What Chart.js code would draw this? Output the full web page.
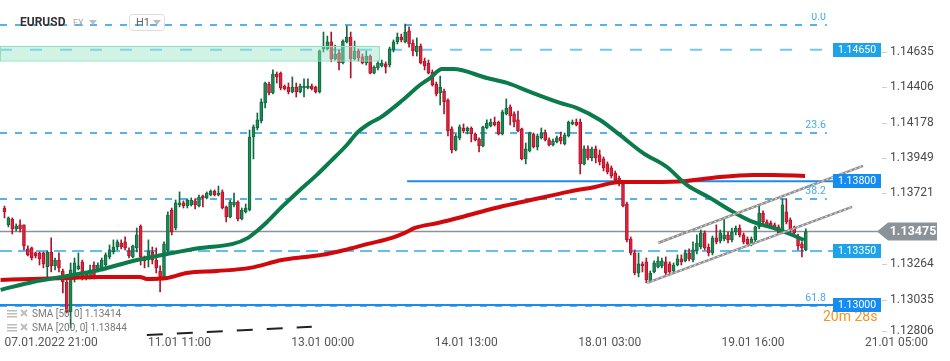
<!DOCTYPE html>
<html>
<head>
<meta charset="utf-8">
<script src="https://cdn.jsdelivr.net/npm/chart.js@4.4.1/dist/chart.umd.min.js"></script>
<style>
  html, body { margin: 0; padding: 0; background: #fff; overflow: hidden; }
  #wrap { width: 950px; height: 361px; }
</style>
</head>
<body>
<div id="wrap"><canvas id="chart" width="950" height="361"></canvas></div>
<script>
// EURUSD H1 candles (bar index 0 = 07.01 21:00)
const opens = [
  1.13627, 1.13518, 1.13556, 1.13492, 1.13518, 1.13518, 1.13363, 1.13369, 1.13337, 1.13337,
  1.13337, 1.13246, 1.13343, 1.13253, 1.13291, 1.13220, 1.13149, 1.12955, 1.13195, 1.13233,
  1.13279, 1.13175, 1.13182, 1.13259, 1.13233, 1.13240, 1.13259, 1.13311, 1.13343, 1.13375,
  1.13401, 1.13408, 1.13350, 1.13311, 1.13369, 1.13511, 1.13311, 1.13291, 1.13343, 1.13291,
  1.13220, 1.13182, 1.13356, 1.13614, 1.13498, 1.13647, 1.13660, 1.13640, 1.13647, 1.13673,
  1.13640, 1.13705, 1.13692, 1.13711, 1.13737, 1.13711, 1.13731, 1.13634, 1.13569, 1.13647,
  1.13666, 1.13556, 1.13602, 1.13614, 1.14086, 1.14144, 1.14189, 1.14306, 1.14428, 1.14370,
  1.14493, 1.14499, 1.14415, 1.14409, 1.14377, 1.14409, 1.14377, 1.14403, 1.14403, 1.14415,
  1.14409, 1.14377, 1.14655, 1.14655, 1.14700, 1.14590, 1.14629, 1.14564, 1.14700, 1.14732,
  1.14590, 1.14642, 1.14603, 1.14564, 1.14609, 1.14499, 1.14532, 1.14545, 1.14558, 1.14551,
  1.14648, 1.14700, 1.14732, 1.14700, 1.14771, 1.14693, 1.14635, 1.14674, 1.14577, 1.14564,
  1.14506, 1.14428, 1.14370, 1.14383, 1.14325, 1.14138, 1.14002, 1.14080, 1.14144, 1.14125,
  1.14144, 1.14105, 1.14073, 1.14028, 1.14144, 1.14157, 1.14183, 1.14183, 1.14105, 1.14235,
  1.14280, 1.14235, 1.14196, 1.14138, 1.13944, 1.13996, 1.14105, 1.14021, 1.14080, 1.14112,
  1.14067, 1.14034, 1.14054, 1.14086, 1.14041, 1.14092, 1.14170, 1.14183, 1.14183, 1.13912,
  1.14009, 1.13950, 1.14009, 1.13970, 1.13944, 1.13912, 1.13886, 1.13853, 1.13821, 1.13782,
  1.13653, 1.13427, 1.13337, 1.13207, 1.13266, 1.13279, 1.13156, 1.13214, 1.13246, 1.13253,
  1.13279, 1.13266, 1.13220, 1.13259, 1.13298, 1.13285, 1.13337, 1.13291, 1.13350, 1.13375,
  1.13466, 1.13375, 1.13337, 1.13434, 1.13414, 1.13427, 1.13453, 1.13421, 1.13472, 1.13498,
  1.13453, 1.13427, 1.13395, 1.13421, 1.13505, 1.13595, 1.13537, 1.13530, 1.13518, 1.13505,
  1.13472, 1.13602, 1.13550, 1.13498, 1.13440, 1.13395, 1.13356
];
const highs = [
  1.13640, 1.13569, 1.13563, 1.13524, 1.13550, 1.13518, 1.13382, 1.13375, 1.13343, 1.13343,
  1.13343, 1.13350, 1.13434, 1.13304, 1.13337, 1.13233, 1.13162, 1.13272, 1.13304, 1.13337,
  1.13291, 1.13214, 1.13259, 1.13279, 1.13272, 1.13304, 1.13337, 1.13388, 1.13421, 1.13421,
  1.13421, 1.13440, 1.13369, 1.13388, 1.13498, 1.13518, 1.13317, 1.13421, 1.13375, 1.13369,
  1.13253, 1.13408, 1.13602, 1.13627, 1.13679, 1.13731, 1.13673, 1.13686, 1.13692, 1.13686,
  1.13711, 1.13711, 1.13731, 1.13744, 1.13744, 1.13769, 1.13744, 1.13640, 1.13679, 1.13724,
  1.13673, 1.13627, 1.13653, 1.14131, 1.14164, 1.14241, 1.14332, 1.14441, 1.14441, 1.14519,
  1.14506, 1.14506, 1.14422, 1.14435, 1.14474, 1.14435, 1.14428, 1.14461, 1.14461, 1.14428,
  1.14415, 1.14648, 1.14764, 1.14738, 1.14764, 1.14680, 1.14648, 1.14713, 1.14803, 1.14764,
  1.14706, 1.14655, 1.14622, 1.14642, 1.14616, 1.14545, 1.14577, 1.14583, 1.14571, 1.14667,
  1.14713, 1.14758, 1.14751, 1.14816, 1.14797, 1.14713, 1.14726, 1.14687, 1.14596, 1.14583,
  1.14519, 1.14441, 1.14480, 1.14396, 1.14332, 1.14151, 1.14105, 1.14164, 1.14170, 1.14151,
  1.14151, 1.14112, 1.14080, 1.14157, 1.14196, 1.14202, 1.14215, 1.14189, 1.14260, 1.14332,
  1.14293, 1.14248, 1.14254, 1.14144, 1.14047, 1.14118, 1.14112, 1.14105, 1.14144, 1.14131,
  1.14080, 1.14073, 1.14092, 1.14118, 1.14112, 1.14189, 1.14196, 1.14202, 1.14202, 1.14028,
  1.14028, 1.14021, 1.14028, 1.14002, 1.13957, 1.13925, 1.13899, 1.13866, 1.13834, 1.13795,
  1.13666, 1.13440, 1.13356, 1.13337, 1.13279, 1.13304, 1.13220, 1.13285, 1.13311, 1.13304,
  1.13311, 1.13279, 1.13272, 1.13324, 1.13324, 1.13356, 1.13363, 1.13408, 1.13453, 1.13485,
  1.13479, 1.13395, 1.13446, 1.13518, 1.13485, 1.13556, 1.13472, 1.13498, 1.13511, 1.13518,
  1.13466, 1.13440, 1.13440, 1.13511, 1.13640, 1.13608, 1.13550, 1.13543, 1.13530, 1.13518,
  1.13686, 1.13686, 1.13563, 1.13511, 1.13459, 1.13408, 1.13492
];
const lows = [
  1.13563, 1.13505, 1.13459, 1.13479, 1.13472, 1.13356, 1.13317, 1.13291, 1.13304, 1.13259,
  1.13240, 1.13162, 1.13214, 1.13227, 1.13214, 1.13078, 1.12949, 1.12852, 1.13149, 1.13227,
  1.13162, 1.13162, 1.13169, 1.13169, 1.13214, 1.13227, 1.13246, 1.13298, 1.13330, 1.13356,
  1.13363, 1.13356, 1.13304, 1.13304, 1.13343, 1.13259, 1.13240, 1.13246, 1.13266, 1.13207,
  1.13085, 1.13175, 1.13343, 1.13453, 1.13485, 1.13634, 1.13627, 1.13627, 1.13640, 1.13621,
  1.13634, 1.13634, 1.13686, 1.13705, 1.13705, 1.13705, 1.13621, 1.13537, 1.13563, 1.13634,
  1.13543, 1.13550, 1.13595, 1.13608, 1.13944, 1.14131, 1.14176, 1.14273, 1.14357, 1.14364,
  1.14435, 1.14390, 1.14390, 1.14364, 1.14370, 1.14344, 1.14370, 1.14344, 1.14396, 1.14390,
  1.14370, 1.14370, 1.14635, 1.14648, 1.14571, 1.14583, 1.14519, 1.14558, 1.14693, 1.14467,
  1.14583, 1.14577, 1.14558, 1.14551, 1.14493, 1.14493, 1.14519, 1.14538, 1.14499, 1.14538,
  1.14635, 1.14687, 1.14700, 1.14693, 1.14667, 1.14609, 1.14609, 1.14558, 1.14519, 1.14493,
  1.14415, 1.14351, 1.14293, 1.14235, 1.14092, 1.13983, 1.13996, 1.14067, 1.14112, 1.14105,
  1.14054, 1.14060, 1.13989, 1.14021, 1.14138, 1.14151, 1.14157, 1.14099, 1.14099, 1.14228,
  1.14164, 1.14151, 1.14118, 1.13937, 1.13912, 1.13989, 1.14015, 1.14002, 1.14073, 1.14060,
  1.14028, 1.14028, 1.14047, 1.14041, 1.14034, 1.14086, 1.14164, 1.14157, 1.13847, 1.13905,
  1.13937, 1.13931, 1.13918, 1.13905, 1.13866, 1.13847, 1.13821, 1.13795, 1.13769, 1.13634,
  1.13408, 1.13324, 1.13195, 1.13182, 1.13214, 1.13143, 1.13149, 1.13207, 1.13240, 1.13240,
  1.13195, 1.13201, 1.13207, 1.13253, 1.13259, 1.13279, 1.13285, 1.13279, 1.13330, 1.13363,
  1.13356, 1.13317, 1.13324, 1.13395, 1.13401, 1.13414, 1.13401, 1.13408, 1.13453, 1.13440,
  1.13395, 1.13382, 1.13382, 1.13408, 1.13492, 1.13524, 1.13511, 1.13498, 1.13485, 1.13459,
  1.13466, 1.13524, 1.13472, 1.13446, 1.13356, 1.13311, 1.13350
];
const closes = [
  1.13602, 1.13563, 1.13492, 1.13511, 1.13492, 1.13382, 1.13324, 1.13304, 1.13317, 1.13298,
  1.13266, 1.13343, 1.13253, 1.13291, 1.13240, 1.13149, 1.12955, 1.13227, 1.13272, 1.13253,
  1.13175, 1.13201, 1.13227, 1.13182, 1.13259, 1.13291, 1.13324, 1.13356, 1.13375, 1.13408,
  1.13375, 1.13369, 1.13317, 1.13382, 1.13453, 1.13311, 1.13285, 1.13350, 1.13291, 1.13240,
  1.13182, 1.13395, 1.13582, 1.13472, 1.13660, 1.13660, 1.13640, 1.13679, 1.13679, 1.13647,
  1.13698, 1.13692, 1.13724, 1.13737, 1.13711, 1.13724, 1.13627, 1.13569, 1.13666, 1.13666,
  1.13556, 1.13614, 1.13627, 1.14086, 1.14151, 1.14196, 1.14312, 1.14435, 1.14370, 1.14493,
  1.14474, 1.14403, 1.14396, 1.14377, 1.14409, 1.14377, 1.14415, 1.14415, 1.14415, 1.14396,
  1.14377, 1.14642, 1.14674, 1.14700, 1.14590, 1.14622, 1.14564, 1.14706, 1.14732, 1.14590,
  1.14642, 1.14596, 1.14564, 1.14609, 1.14499, 1.14538, 1.14564, 1.14564, 1.14538, 1.14655,
  1.14700, 1.14732, 1.14713, 1.14764, 1.14687, 1.14642, 1.14674, 1.14564, 1.14545, 1.14499,
  1.14422, 1.14364, 1.14409, 1.14312, 1.14125, 1.14002, 1.14092, 1.14151, 1.14125, 1.14144,
  1.14105, 1.14067, 1.14028, 1.14151, 1.14176, 1.14183, 1.14164, 1.14105, 1.14248, 1.14273,
  1.14222, 1.14183, 1.14125, 1.13944, 1.14009, 1.14112, 1.14021, 1.14092, 1.14112, 1.14067,
  1.14034, 1.14060, 1.14080, 1.14060, 1.14099, 1.14183, 1.14183, 1.14164, 1.13912, 1.14009,
  1.13950, 1.14009, 1.13950, 1.13925, 1.13886, 1.13860, 1.13834, 1.13808, 1.13782, 1.13640,
  1.13421, 1.13337, 1.13207, 1.13266, 1.13253, 1.13162, 1.13207, 1.13272, 1.13285, 1.13285,
  1.13207, 1.13214, 1.13259, 1.13298, 1.13279, 1.13337, 1.13298, 1.13356, 1.13401, 1.13466,
  1.13369, 1.13337, 1.13434, 1.13408, 1.13466, 1.13453, 1.13421, 1.13472, 1.13498, 1.13453,
  1.13408, 1.13395, 1.13427, 1.13505, 1.13595, 1.13537, 1.13518, 1.13511, 1.13492, 1.13466,
  1.13647, 1.13537, 1.13492, 1.13466, 1.13382, 1.13369, 1.13475
];

// moving averages, sampled from the drawn curves (bar index / price)
const sma50Idx = [-1, 7.3, 16.1, 24.5, 33.0, 41.8, 50.3, 58.7, 62.6, 65.2,
  67.5, 71.3, 75.4, 80.3, 83.7, 88.0, 90.6, 94.0, 96.5, 102.4,
  106.8, 109.4, 112.5, 115.3, 124.0, 129.2, 135.1, 142.8, 147.2, 153.1,
  158.2, 164.1, 170.3, 175.4, 181.4, 187.3, 192.4, 197.6, 201.2, 205.5];
const sma50Val = [1.13098, 1.13149, 1.13188, 1.13227, 1.13285, 1.13330, 1.13369, 1.13395, 1.13434, 1.13485,
  1.13537, 1.13634, 1.13731, 1.13841, 1.13925, 1.14034, 1.14112, 1.14176, 1.14209, 1.14325,
  1.14422, 1.14467, 1.14525, 1.14525, 1.14467, 1.14435, 1.14377, 1.14306, 1.14273, 1.14196,
  1.14099, 1.13983, 1.13892, 1.13776, 1.13692, 1.13602, 1.13537, 1.13498, 1.13466, 1.13421];
const sma200Idx = [-1, 7.3, 16.1, 24.5, 34.8, 36.6, 41.8, 46.9, 54.6, 63.1,
  71.3, 77.3, 81.6, 87.5, 93.4, 99.6, 102.9, 105.5, 111.4, 117.6,
  126.1, 133.0, 138.9, 144.9, 151.8, 158.2, 166.7, 175.4, 183.9, 192.4,
  197.6, 205.8];
const sma200Val = [1.13162, 1.13169, 1.13175, 1.13182, 1.13182, 1.13169, 1.13175, 1.13207, 1.13220, 1.13240,
  1.13291, 1.13311, 1.13324, 1.13356, 1.13395, 1.13434, 1.13466, 1.13498, 1.13530, 1.13569,
  1.13627, 1.13666, 1.13698, 1.13731, 1.13763, 1.13795, 1.13795, 1.13802, 1.13828, 1.13841,
  1.13841, 1.13834];

// axes
const timeTicks = [0, 36.9, 73.7, 110.6, 147.5, 184.3, 221.2];
const timeLabels = ['07.01.2022 21:00', '11.01 11:00', '13.01 00:00', '14.01 13:00', '18.01 03:00', '19.01 16:00', '21.01 05:00'];
const priceTicks = [1.14635, 1.14406, 1.14178, 1.13949, 1.13721, 1.13492, 1.13264, 1.13035, 1.12806];

// drawings on the chart
const fibLevels = [1.14810, 1.14112, 1.13686, 1.12994];
const fibNames = ['0.0', '23.6', '38.2', '61.8'];
const fibEnd = 211.4;
const keyLevels = [1.14650, 1.13800, 1.13350, 1.13000];
const keyFrom = [-1.2, 103.5, -1.2, -1.2];
const lastPrice = 1.13475;
const zoneIdx = [-1.2, 96.5];
const zonePrice = [1.14674, 1.14580];
const channelUpIdx = [168.0, 220.7];
const channelUpVal = [1.13401, 1.13899];
const channelLowIdx = [165.2, 217.9];
const channelLowVal = [1.13143, 1.13634];
const trendIdx = [36.6, 79.0];
const trendVal = [1.12807, 1.12859];
const legendRows = ['SMA [50, 0] 1.13414', 'SMA [200, 0] 1.13844'];

const GREEN = '#1b8a57', GREEN_D = '#0d6a3e';
const RED = '#e2243b', RED_D = '#b0122a';

const idx = opens.map((_, i) => i);
const isUp = idx.map(i => closes[i] >= opens[i]);

function seg(ctx, x1, y1, x2, y2) {
    ctx.beginPath();
    ctx.moveTo(x1, y1);
    ctx.lineTo(x2, y2);
    ctx.stroke();
}

function tri(ctx, x, y) {
    ctx.beginPath();
    ctx.moveTo(x, y);
    ctx.lineTo(x + 8, y);
    ctx.lineTo(x + 4, y + 5);
    ctx.closePath();
    ctx.fill();
}

const overlay = {
    id: 'overlay',
    beforeDatasetsDraw(chart) {
        const { ctx, chartArea: a, scales: { x, y } } = chart;
        const tagLeft = a.right - 47;
        ctx.save();

        // fibonacci levels
        ctx.lineWidth = 1.5;
        ctx.strokeStyle = '#2199e3';
        ctx.setLineDash([7, 8]);
        fibLevels.forEach(v => {
            const py = y.getPixelForValue(v);
            seg(ctx, a.left, py, x.getPixelForValue(fibEnd), py);
        });

        // key levels
        const styles = [
            { c: '#74c6f2', d: [12, 18] },
            { c: '#1a8cef', d: [] },
            { c: '#62bff3', d: [12, 6] },
            { c: '#1a8cef', d: [] }
        ];
        ctx.lineWidth = 2;
        keyLevels.forEach((v, k) => {
            const py = y.getPixelForValue(v);
            ctx.strokeStyle = styles[k].c;
            ctx.setLineDash(styles[k].d);
            seg(ctx, Math.max(a.left, x.getPixelForValue(keyFrom[k])), py, tagLeft, py);
        });

        // last price line
        ctx.setLineDash([]);
        ctx.lineWidth = 1.5;
        ctx.strokeStyle = '#8b9297';
        const lp = y.getPixelForValue(lastPrice);
        seg(ctx, a.left, lp, a.right, lp);
        ctx.restore();
    },
    afterDatasetsDraw(chart) {
        const { ctx, chartArea: a, scales: { x, y } } = chart;
        const tagLeft = a.right - 47;
        ctx.save();

        // resistance zone
        const zx1 = Math.max(a.left, x.getPixelForValue(zoneIdx[0]));
        const zx2 = x.getPixelForValue(zoneIdx[1]);
        const zy1 = y.getPixelForValue(zonePrice[0]);
        const zy2 = y.getPixelForValue(zonePrice[1]);
        ctx.fillStyle = 'rgba(150, 228, 200, 0.45)';
        ctx.fillRect(zx1, zy1, zx2 - zx1, zy2 - zy1);
        ctx.strokeStyle = '#8ee0c0';
        ctx.lineWidth = 1;
        ctx.strokeRect(zx1 + 0.5, zy1 + 0.5, zx2 - zx1 - 1, zy2 - zy1);

        // channel
        [[channelUpIdx, channelUpVal], [channelLowIdx, channelLowVal]].forEach(([ix, vv]) => {
            const x1 = x.getPixelForValue(ix[0]), y1 = y.getPixelForValue(vv[0]);
            const x2 = x.getPixelForValue(ix[1]), y2 = y.getPixelForValue(vv[1]);
            ctx.setLineDash([]);
            ctx.lineWidth = 2.5;
            ctx.strokeStyle = '#8f8f8f';
            seg(ctx, x1, y1, x2, y2);
            ctx.setLineDash([2, 3]);
            ctx.lineWidth = 1;
            ctx.strokeStyle = 'rgba(255,255,255,0.8)';
            seg(ctx, x1, y1, x2, y2);
        });

        // dashed trend line at the bottom
        ctx.setLineDash([16, 14]);
        ctx.lineWidth = 2;
        ctx.strokeStyle = '#222';
        seg(ctx, x.getPixelForValue(trendIdx[0]), y.getPixelForValue(trendVal[0]),
            x.getPixelForValue(trendIdx[1]), y.getPixelForValue(trendVal[1]));
        ctx.setLineDash([]);

        // fib labels
        ctx.font = '10.5px Roboto';
        ctx.fillStyle = '#45aaec';
        ctx.textAlign = 'right';
        ctx.textBaseline = 'middle';
        const fx = x.getPixelForValue(fibEnd) - 1;
        fibLevels.forEach((v, k) => {
            const py = y.getPixelForValue(v) - 8;
            ctx.save();
            ctx.beginPath();
            ctx.rect(0, 13, 950, 400);
            ctx.clip();
            ctx.fillText(fibNames[k], fx, py);
            ctx.restore();
        });

        // countdown
        ctx.font = '14px Roboto';
        ctx.fillStyle = '#f7931e';
        ctx.textAlign = 'left';
        ctx.fillText('20m 28s', a.right - 57, 317);

        // level tags
        const tagColors = ['#1ea3e8', '#148cf0', '#1ea3e8', '#148cf0'];
        ctx.font = '10.5px Roboto';
        ctx.textAlign = 'center';
        keyLevels.forEach((v, k) => {
            const py = y.getPixelForValue(v);
            ctx.fillStyle = tagColors[k];
            ctx.fillRect(tagLeft, Math.round(py) - 7, 48, 14);
            ctx.fillStyle = '#fff';
            ctx.fillText(v.toFixed(5), tagLeft + 24, Math.round(py) + 0.5);
        });

        // price axis labels
        ctx.font = '12px Roboto';
        ctx.textAlign = 'left';
        ctx.fillStyle = '#4a4a4a';
        ctx.strokeStyle = '#cfcfcf';
        ctx.lineWidth = 1;
        priceTicks.forEach(v => {
            const py = Math.min(y.getPixelForValue(v), 331);
            seg(ctx, a.right + 2, Math.round(py) + 0.5, a.right + 7, Math.round(py) + 0.5);
            ctx.fillText(v.toFixed(5), a.right + 10, py);
        });

        // last price tag
        const lp = y.getPixelForValue(lastPrice);
        ctx.fillStyle = '#8b9398';
        ctx.beginPath();
        ctx.moveTo(a.right - 3, lp);
        ctx.lineTo(a.right + 8, lp - 9);
        ctx.lineTo(a.right + 57, lp - 9);
        ctx.lineTo(a.right + 57, lp + 9);
        ctx.lineTo(a.right + 8, lp + 9);
        ctx.closePath();
        ctx.fill();
        ctx.font = 'bold 12.5px Roboto';
        ctx.fillStyle = '#fff';
        ctx.textAlign = 'center';
        ctx.fillText(lastPrice.toFixed(5), a.right + 33, lp + 0.5);

        // header
        ctx.textAlign = 'left';
        ctx.font = 'bold 12px Roboto';
        ctx.fillStyle = '#333';
        ctx.fillText('EURUSD', 20, 23);
        ctx.font = '9px Roboto';
        ctx.fillStyle = '#a8a8a8';
        ctx.fillText('FX', 73, 24);
        ctx.fillStyle = '#bdbdbd';
        tri(ctx, 89, 20);
        ctx.strokeStyle = '#dddddd';
        ctx.beginPath();
        ctx.roundRect(129.5, 14.5, 35, 16, 3);
        ctx.stroke();
        ctx.font = '11px Roboto';
        ctx.fillStyle = '#666';
        ctx.fillText('H1', 136, 23);
        ctx.fillStyle = '#bdbdbd';
        tri(ctx, 153, 20);

        // indicator legend
        legendRows.forEach((t, k) => {
            const ly = 314 + k * 14;
            ctx.fillStyle = '#bdbdbd';
            ctx.fillRect(7, ly - 4, 10, 1.5);
            ctx.fillRect(7, ly - 1, 10, 1.5);
            ctx.fillRect(7, ly + 2, 10, 1.5);
            ctx.strokeStyle = '#bdbdbd';
            ctx.lineWidth = 2;
            seg(ctx, 21, ly - 4, 27, ly + 2);
            seg(ctx, 27, ly - 4, 21, ly + 2);
            ctx.font = '10px Roboto';
            ctx.fillStyle = '#7a7a7a';
            ctx.fillText(t, 32, ly);
        });
        ctx.restore();
    }
};

const chartCtx = document.getElementById('chart').getContext('2d');
new Chart(chartCtx, {
    type: 'bar',
    data: {
        datasets: [
            {
                type: 'line',
                label: 'SMA 50',
                data: sma50Idx.map((v, k) => ({ x: v, y: sma50Val[k] })),
                borderColor: '#0c7b4b',
                borderWidth: 4,
                pointRadius: 0,
                cubicInterpolationMode: 'monotone',
                order: 1
            },
            {
                type: 'line',
                label: 'SMA 200',
                data: sma200Idx.map((v, k) => ({ x: v, y: sma200Val[k] })),
                borderColor: '#d0090d',
                borderWidth: 4,
                pointRadius: 0,
                cubicInterpolationMode: 'monotone',
                order: 2
            },
            {
                label: 'body',
                data: idx.map(i => ({ x: i, y: [opens[i], closes[i]] })),
                backgroundColor: isUp.map(u => u ? GREEN : RED),
                borderColor: isUp.map(u => u ? GREEN_D : RED_D),
                borderWidth: 1,
                borderSkipped: false,
                barThickness: 3,
                minBarLength: 1,
                grouped: false,
                order: 3
            },
            {
                label: 'wick',
                data: idx.map(i => ({ x: i, y: [lows[i], highs[i]] })),
                backgroundColor: isUp.map(u => u ? GREEN_D : RED_D),
                borderWidth: 0,
                barThickness: 1,
                grouped: false,
                order: 4
            }
        ]
    },
    options: {
        responsive: false,
        animation: false,
        layout: { padding: 0 },
        plugins: { legend: { display: false }, tooltip: { enabled: false } },
        scales: {
            x: {
                type: 'linear',
                min: -1.157,
                max: 225.07,
                offset: false,
                grid: { display: false, drawTicks: false },
                border: { display: false },
                afterBuildTicks: s => { s.ticks = timeTicks.map(v => ({ value: v })); },
                afterFit: s => { s.height = 25; },
                ticks: {
                    align: 'start',
                    autoSkip: false,
                    maxRotation: 0,
                    padding: 0,
                    color: '#555',
                    font: { family: 'Roboto', size: 12 },
                    callback: (v, k) => timeLabels[k]
                }
            },
            y: {
                position: 'right',
                min: 1.12800,
                max: 1.14971,
                grid: { display: false },
                border: { display: false },
                ticks: { display: false },
                afterFit: s => { s.width = 70; }
            }
        }
    },
    plugins: [overlay]
});
</script>
</body>
</html>
